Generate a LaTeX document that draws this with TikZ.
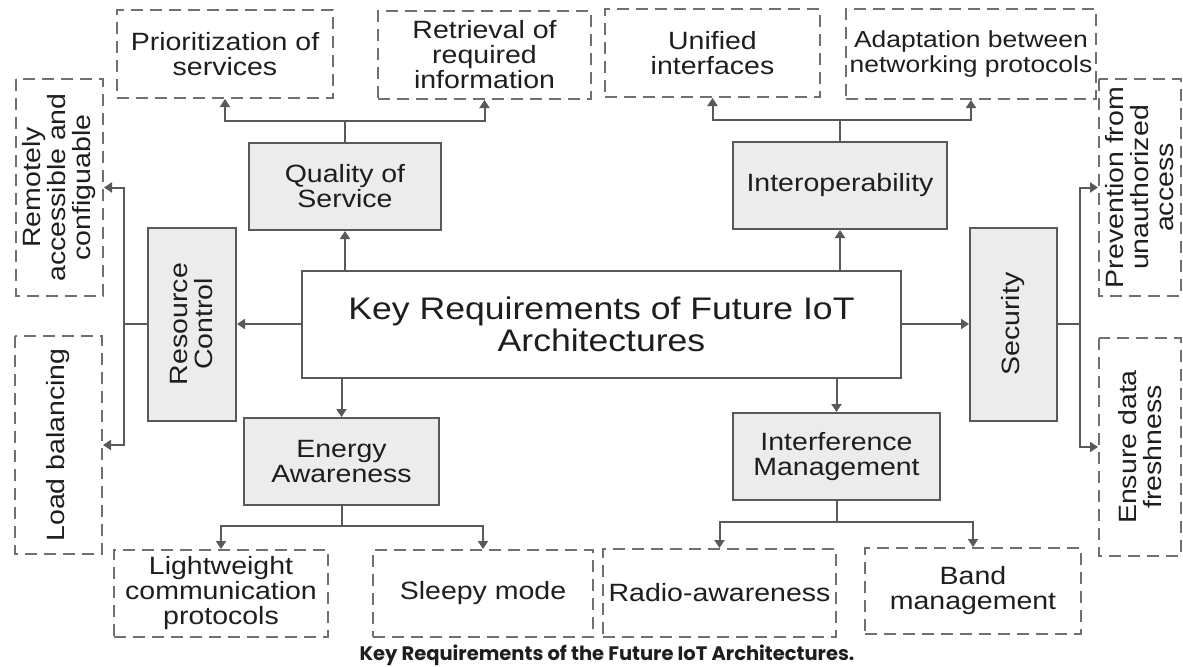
\documentclass[tikz,border=0pt]{standalone}
\usepackage{fontspec}
\setmainfont[FakeStretch=1.14]{Liberation Sans}
\newfontfamily\capfont{Poppins}
\usetikzlibrary{arrows.meta}

\definecolor{linegray}{HTML}{595959}
\definecolor{dashgray}{HTML}{707070}
\definecolor{boxfill}{HTML}{ECECEC}
\definecolor{textdark}{HTML}{1E1E1E}

\tikzset{
    boxsize/.style 2 args={minimum width=#1, minimum height=#2},
    reqbox/.style={draw=linegray, line width=1pt, fill=boxfill, align=center, inner sep=0pt,
        text=textdark, font=\fontsize{12.5}{12.5}\selectfont},
    subbox/.style={draw=dashgray, line width=1pt, dash pattern=on 6pt off 3.5pt, align=center,
        inner sep=0pt, text=textdark, font=\fontsize{12.5}{12.5}\selectfont},
    link/.style={draw=linegray, line width=1pt},
    arr/.style={link, -{Triangle[length=4pt,width=5pt]}}
}

\begin{document}
\begin{tikzpicture}[x=0.5pt, y=-0.5pt]
                \useasboundingbox (0,0) rectangle (1183,666);

                \node[reqbox, fill=white, boxsize={299.5pt}{53.5pt}, font=\fontsize{15.6}{16}\selectfont] (key) at (601.5,324)
                    {Key Requirements of Future IoT\\Architectures};

                \node[reqbox, boxsize={96pt}{43.5pt}] (qos) at (345,186.5) {Quality of\\Service};
                \node[reqbox, boxsize={107pt}{43.5pt}] (inter) at (840,185.5) {Interoperability};
                \node[reqbox, rotate=90, boxsize={96.5pt}{44pt}] (resc) at (192,324) {Resource\\Control};
                \node[reqbox, rotate=90, boxsize={96.5pt}{43.5pt}] (secu) at (1013.5,324) {Security};
                \node[reqbox, boxsize={97.5pt}{43.5pt}] (ener) at (341.5,461.5) {Energy\\Awareness};
                \node[reqbox, boxsize={103.5pt}{43.5pt}] (intf) at (836.5,456.5) {Interference\\Management};

                \node[subbox, boxsize={108pt}{44pt}] (prio) at (225,54) {Prioritization of\\services};
                \node[subbox, boxsize={106.5pt}{44pt}] (retr) at (484.5,55) {Retrieval of\\required\\information};
                \node[subbox, boxsize={107.5pt}{44pt}] (unif) at (712.5,53) {Unified\\interfaces};
                \node[subbox, boxsize={125pt}{45pt}, font=\fontsize{11.6}{12.5}\selectfont] (adap) at (971,54)
                    {Adaptation between\\networking protocols};
                \node[subbox, rotate=90, boxsize={108.5pt}{43.5pt}] (remo) at (59.5,187.5)
                    {Remotely\\accessible and\\configuable};
                \node[subbox, rotate=90, boxsize={109pt}{43.5pt}] (load) at (58.5,445) {Load balancing};
                \node[subbox, rotate=90, boxsize={108.5pt}{41pt}] (prev) at (1140,187.5)
                    {Prevention from\\unauthorized\\access};
                \node[subbox, rotate=90, boxsize={109pt}{41pt}] (ensu) at (1140,447) {Ensure data\\freshness};
                \node[subbox, boxsize={107pt}{43.5pt}] (ligh) at (221,593.5) {Lightweight\\communication\\protocols};
                \node[subbox, boxsize={110pt}{43.5pt}] (slee) at (483,593.5) {Sleepy mode};
                \node[subbox, boxsize={116.5pt}{44pt}] (radi) at (719.5,593) {Radio-awareness};
                \node[subbox, boxsize={108pt}{43pt}] (band) at (973,591) {Band\\management};

                \node[text=textdark, font=\capfont\bfseries\fontsize{9.75}{11}\selectfont] (caption) at (607,655)
                    {Key Requirements of the Future IoT Architectures.};

                \coordinate (qosb) at (345,121);
                \coordinate (interb) at (840,120);
                \coordinate (rescb) at (124,324);
                \coordinate (secub) at (1080,324);
                \coordinate (enerb) at (341.5,526);
                \coordinate (intfb) at (836.5,522);

                \draw[arr] (qos.south |- key.north) -- (qos.south);
                \draw[arr] (inter.south |- key.north) -- (inter.south);
                \draw[arr] (ener.north |- key.south) -- (ener.north);
                \draw[arr] (intf.north |- key.south) -- (intf.north);
                \draw[arr] (key.west) -- (resc);
                \draw[arr] (key.east) -- (secu);

                \draw[link] (qos.north) -- (qosb);
                \draw[arr] (qosb) -| (prio.south);
                \draw[arr] (qosb) -| (retr.south);
                \draw[link] (inter.north) -- (interb);
                \draw[arr] (interb) -| (unif.south);
                \draw[arr] (interb) -| (adap.south);
                \draw[link] (resc) -- (rescb);
                \draw[arr] (rescb) |- (remo);
                \draw[arr] (rescb) |- (load);
                \draw[link] (secu) -- (secub);
                \draw[arr] (secub) |- (prev);
                \draw[arr] (secub) |- (ensu);
                \draw[link] (ener.south) -- (enerb);
                \draw[arr] (enerb) -| (ligh.north);
                \draw[arr] (enerb) -| (slee.north);
                \draw[link] (intf.south) -- (intfb);
                \draw[arr] (intfb) -| (radi.north);
                \draw[arr] (intfb) -| (band.north);
            \end{tikzpicture}
\end{document}
